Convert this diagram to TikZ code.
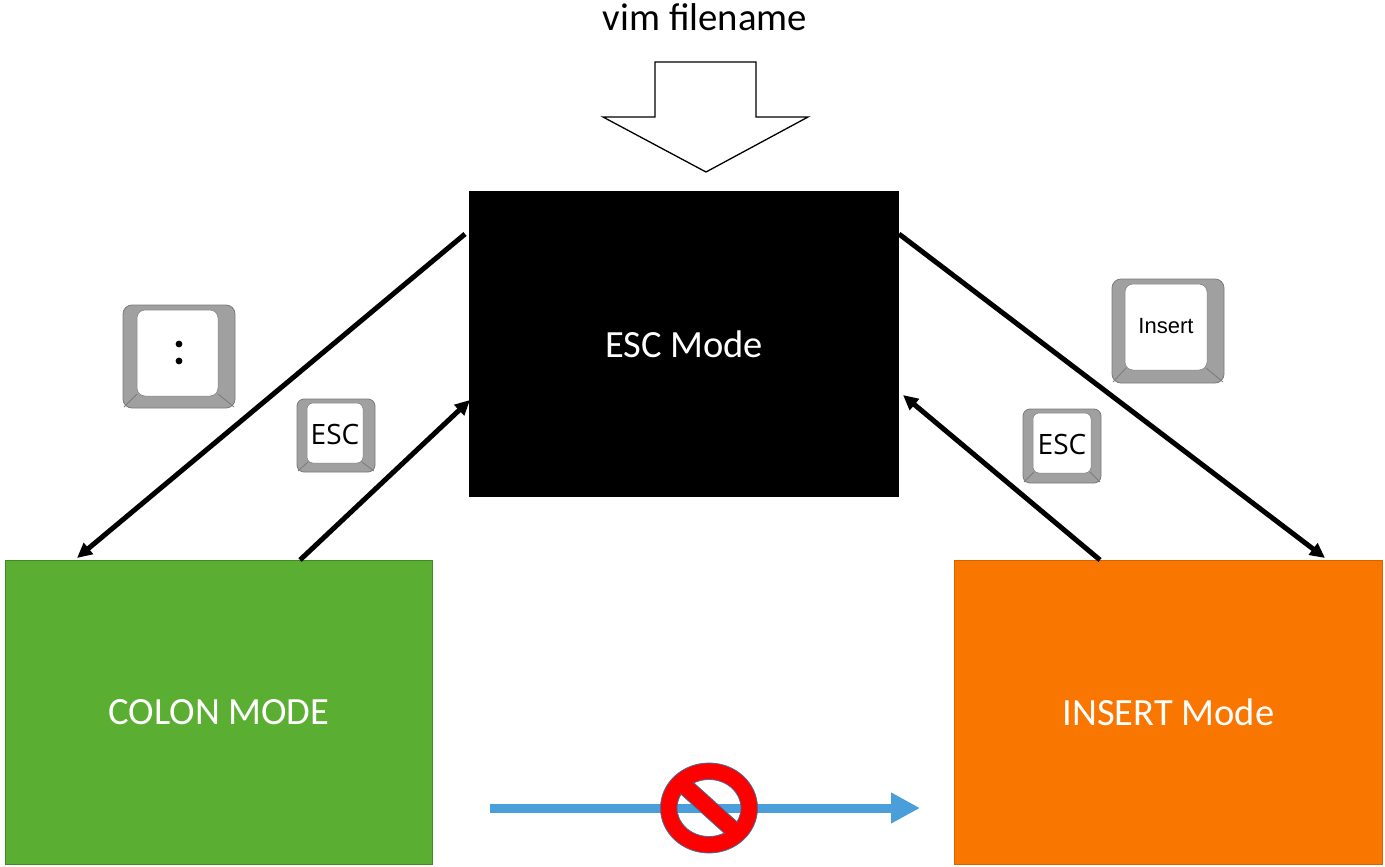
\documentclass[tikz,border=0pt]{standalone}
\usepackage{fontspec}
\setmainfont{Carlito}
\newfontfamily\arialf{Liberation Sans}
\newfontfamily\keyf{Open Sans}
\usetikzlibrary{arrows.meta,calc}
\definecolor{cgreen}{HTML}{5AAF33}
\definecolor{cgreenb}{HTML}{3F8A22}
\definecolor{corange}{HTML}{F97701}
\definecolor{corangeb}{HTML}{D46300}
\definecolor{cblue}{HTML}{4A9FDB}
\definecolor{keygray}{HTML}{A0A0A0}
\definecolor{keyedge}{HTML}{7A7A7A}
\definecolor{ringedge}{HTML}{41719C}
\tikzset{
  modebox/.style={draw, line width=1pt, text=white, font=\fontsize{38.5}{44}\selectfont, anchor=north west, inner sep=0pt},
  conn/.style={line width=5pt, -{Triangle[length=15pt,width=14pt]}},
  keyouter/.style={fill=keygray, draw=keyedge, line width=0.8pt, rounded corners=9pt},
  keyinner/.style={fill=white, draw=keyedge, line width=0.5pt, rounded corners=8pt},
  keyline/.style={draw=keyedge, line width=0.8pt},
}
\begin{document}
\begin{tikzpicture}[x=1pt,y=-1pt]
\useasboundingbox (0,0) rectangle (1385,867);
% title
\node[font=\fontsize{38.8}{44}\selectfont, anchor=base, inner sep=0pt] (title) at (705,31) {vim filename};
% block arrow
\draw[line width=1.3pt, fill=white] (655,62) -- (756,62) -- (756,117) -- (808,117) -- (706,172) -- (603,117) -- (655,117) -- cycle;
% mode boxes
\node[modebox, fill=black, draw=black, minimum width=429pt, minimum height=305pt] (esc) at (469,191) {ESC Mode};
\node[modebox, fill=cgreen, draw=cgreenb, minimum width=427pt, minimum height=304pt] (colon) at (5,560) {COLON MODE};
\node[modebox, fill=corange, draw=corangeb, minimum width=428pt, minimum height=304pt] (insert) at (954,560) {INSERT Mode};
% connectors
\draw[conn] ([xshift=-4pt,yshift=-43pt]esc.north west) -- ([xshift=72pt,yshift=2pt]colon.north west);
\draw[conn] ([xshift=295pt]colon.north west) -- ([xshift=1pt,yshift=-209pt]esc.north west);
\draw[conn] ([yshift=-43pt]esc.north east) -- ([xshift=371pt,yshift=2pt]insert.north west);
\draw[conn] ([xshift=146pt]insert.north west) -- ([xshift=4pt,yshift=-204pt]esc.north east);
% key: colon
\draw[keyouter] (123,305) rectangle (235,408);
\draw[keyline] (137,394) -- (124,407) (218,394) -- (234,407);
\draw[keyinner] (137,310) rectangle (218,396);
\fill (179,344) circle (3.4) (179,361) circle (3.4);
\node[inner sep=0pt] (kcolon) at (179,352) {};
% key: ESC left
\draw[keyouter, rounded corners=7pt] (297,399) rectangle (375,472);
\draw[keyline] (308,462) -- (298,471) (362,462) -- (374,471);
\draw[keyinner, rounded corners=6pt] (307,403) rectangle (363,463);
\node[font=\keyf\fontsize{28}{32}\selectfont, inner sep=0pt] (kesc1) at (335,434) {ESC};
% key: Insert
\draw[keyouter] (1112,279) rectangle (1224,383);
\draw[keyline] (1126,368) -- (1113,382) (1206,368) -- (1223,382);
\draw[keyinner] (1125,284) rectangle (1207,370);
\node[font=\arialf\fontsize{22}{26}\selectfont, inner sep=0pt] (kins) at (1166,326) {Insert};
% key: ESC right
\draw[keyouter, rounded corners=7pt] (1023,409) rectangle (1101,483);
\draw[keyline] (1034,472) -- (1024,482) (1090,472) -- (1100,482);
\draw[keyinner, rounded corners=6pt] (1033,413) rectangle (1091,473);
\node[font=\keyf\fontsize{28}{32}\selectfont, inner sep=0pt] (kesc2) at (1062,444) {ESC};
% forbidden transition
\coordinate (bstart) at (490,808);
\coordinate (bend) at (920,808);
\draw[cblue, line width=9pt, -{Triangle[length=29pt,width=29pt]}] (bstart) -- (bend);
\node (nosign) at (709,808) {};
\begin{scope}[shift={(709,808)}]
  \fill[red, draw=ringedge, line width=0.8pt, even odd rule] (0,0) ellipse [x radius=48.5, y radius=45] (0,0) ellipse [x radius=32, y radius=28.5];
  \begin{scope}
    \clip (0,0) ellipse [x radius=33, y radius=29.5];
    \fill[red, draw=ringedge, line width=0.8pt, rotate=-42] (-40,-8.5) rectangle (40,8.5);
  \end{scope}
\end{scope}
\end{tikzpicture}
\end{document}
